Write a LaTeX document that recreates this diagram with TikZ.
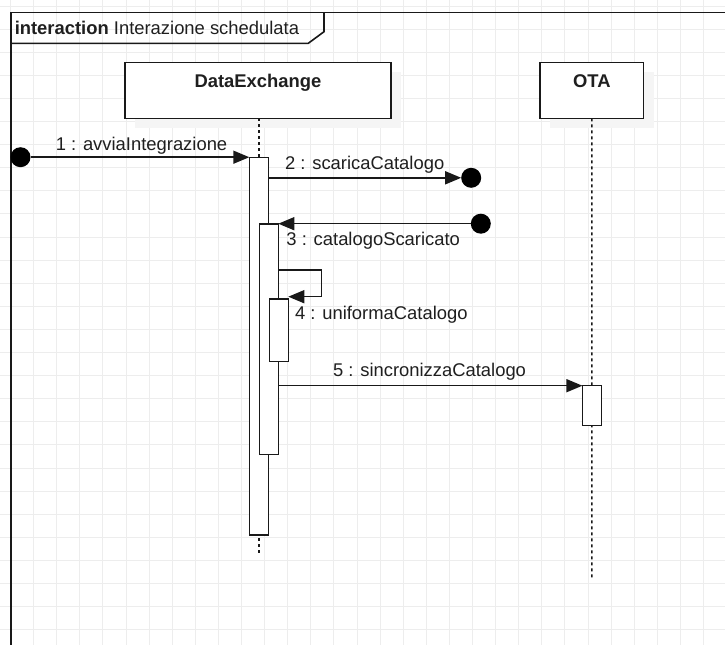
\documentclass[tikz,border=0pt]{standalone}
\usepackage{fontspec}
\setmainfont{Liberation Sans}
\usetikzlibrary{arrows.meta}
\begin{document}
\begin{tikzpicture}[x=1pt,y=-1pt,
  line width=1.5pt,
  gridline/.style={draw=black!7,line width=0.9pt},
  frameline/.style={draw=black!90,line width=1.6pt},
  shadowbox/.style={fill=black!4,draw=none},
  lifebox/.style={draw=black!90,fill=white,line width=1.5pt,outer sep=0pt,inner sep=0pt,anchor=north west},
  actbar/.style={draw=black!90,fill=white,line width=1.5pt,outer sep=0pt,inner sep=0pt,anchor=north west,minimum width=19pt},
  lifeline/.style={draw=black!90,dash pattern=on 3pt off 3pt,line width=1.5pt},
  msg/.style={draw=black!90,line width=1.5pt,-{Triangle[length=16pt,width=13pt]}},
  endpt/.style={circle,fill=black,draw=none,inner sep=0pt,minimum size=20pt,outer sep=0pt},
  txt/.style={font=\fontsize{18.4}{22}\selectfont,text=black!88,inner sep=0pt,anchor=base west},
]
\useasboundingbox (0,0) rectangle (725,645);
\clip (0,0) rectangle (725,645);
\fill[white] (0,0) rectangle (725,645);
% grid
\foreach \i in {0,...,31} \draw[gridline] ({10.5+23.1*\i},0) -- ++(0,645);
\foreach \j in {0,...,27} \draw[gridline] (0,{6+23.1*\j}) -- ++(725,0);
% frame
\draw[frameline] (725,12.3) -- (11,12.3) -- (11,645);
\draw[frameline] (11,43.3) -- (308.3,43.3) -- (324,31.7) -- (324,12.3);
\node[txt] (hdr) at (14,34.3) {\textbf{interaction} Interazione schedulata};
% lifeline heads
\fill[shadowbox] (135,72.3) rectangle (401,128.3);
\fill[shadowbox] (550,72.3) rectangle (653.7,128.3);
\node[lifebox,minimum width=266pt,minimum height=56pt] (dx) at (125,62.3) {};
\node[txt,anchor=base] (dxl) at (258,87.3) {\textbf{DataExchange}};
\node[lifebox,minimum width=103.7pt,minimum height=56pt] (ota) at (540,62.3) {};
\node[txt,anchor=base] (otal) at (591.9,87.3) {\textbf{OTA}};
% lifelines
\coordinate (dxend) at (258.8,556);
\coordinate (otaend) at (591.9,580);
\draw[lifeline] (dx.south -| dxend) -- (dxend);
\draw[lifeline] (ota.south) -- (otaend);
% activation bars
\node[actbar,minimum height=377.3pt] (b1) at (249.3,157.7) {};
\node[actbar,minimum height=230.3pt] (b2) at (259.3,224) {};
\node[actbar,minimum height=62.7pt] (b3) at (269.3,299) {};
\node[actbar,minimum height=40pt] (b4) at (582.4,385.7) {};
% end points
\node[endpt] (c1) at (20.5,157.2) {};
\node[endpt] (c2) at (471.2,177.8) {};
\node[endpt] (c3) at (480.8,223.7) {};
% messages
\draw[msg] (c1.east) -- (c1 -| b1.west);
\draw[msg] (b1.east |- c2) -- (c2.west);
\draw[msg] (c3.west) -- (c3 -| b2.east);
\coordinate (l1) at (321.7,270);
\coordinate (l2) at (321.7,296.7);
\draw[msg] (b2.east |- l1) -- (l1) -- (l2) -- (l2 -| b3.east);
\draw[msg] (b2.east |- b4.north) -- (b4.north west);
% labels
\node[txt] (m1) at (55,150) {1 : avviaIntegrazione};
\node[txt] (m2) at (284.3,169.5) {2 : scaricaCatalogo};
\node[txt] (m3) at (285.7,245) {3 : catalogoScaricato};
\node[txt] (m4) at (294.3,319) {4 : uniformaCatalogo};
\node[txt] (m5) at (332.3,376.5) {5 : sincronizzaCatalogo};
\end{tikzpicture}
\end{document}
